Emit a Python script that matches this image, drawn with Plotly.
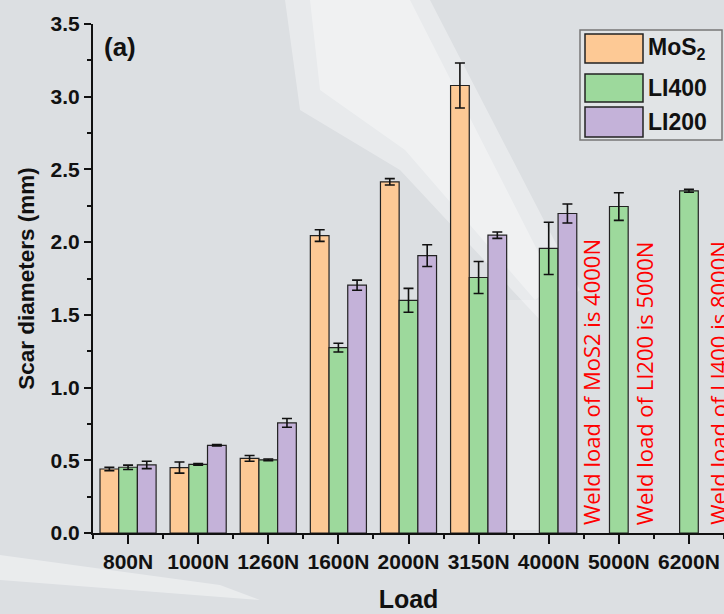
import plotly.graph_objects as go

loads = ["800N", "1000N", "1260N", "1600N", "2000N", "3150N", "4000N", "5000N", "6200N"]
mos2 = [0.44, 0.45, 0.513, 2.045, 2.415, 3.077, None, None, None]
mos2_err = [0.012, 0.038, 0.02, 0.04, 0.022, 0.155, None, None, None]
li400 = [0.452, 0.472, 0.503, 1.275, 1.60, 1.757, 1.957, 2.245, 2.353]
li400_err = [0.015, 0.006, 0.006, 0.03, 0.082, 0.11, 0.18, 0.095, 0.01]
li200 = [0.468, 0.603, 0.757, 1.704, 1.907, 2.048, 2.197, None, None]
li200_err = [0.025, 0.005, 0.03, 0.035, 0.075, 0.022, 0.065, None, None]

series_names = ["MoS<sub>2</sub>", "LI400", "LI200"]
series_colors = ["#fdc995", "#9dd99c", "#c4b2d9"]

weld_notes = ["Weld load of MoS2 is 4000N", "Weld load of LI200 is 5000N", "Weld load of LI400 is 8000N"]
weld_x = [6.6, 7.36, 8.41]

W, H = 724, 614
L, R, T, B = 93, 0, 24, 81
PW, PH = W - L - R, H - T - B


def px(x):
    return (x - L) / PW


def py(y):
    return (H - B - y) / PH


fig = go.Figure()
for name, vals, errs, col in zip(series_names, [mos2, li400, li200],
                                 [mos2_err, li400_err, li200_err], series_colors):
    fig.add_trace(go.Bar(
        x=loads, y=vals, name=name,
        marker=dict(color=col, line=dict(color="#222", width=1.2)),
        error_y=dict(type="data", array=errs, color="#111", thickness=1.6, width=5),
        showlegend=False,
    ))

# helper trace for boundary ticks
fig.add_trace(go.Scatter(x=loads, y=[0] * len(loads), xaxis="x2", mode="markers",
                         marker=dict(opacity=0), showlegend=False, hoverinfo="skip"))

fam = "Liberation Sans, Arial"

fig.update_layout(
    width=W, height=H, autosize=False,
    margin=dict(l=L, r=R, t=T, b=B, pad=0),
    paper_bgcolor="#dcdfe2",
    plot_bgcolor="rgba(0,0,0,0)",
    barmode="group", bargap=0.2, bargroupgap=0,
    font=dict(family=fam, color="#111"),
    xaxis=dict(
        type="category", categoryorder="array", categoryarray=loads,
        range=[-0.5, 8.5], showgrid=False, zeroline=False,
        showline=True, linecolor="#111", linewidth=2,
        ticks="outside", ticklen=9, tickwidth=2, tickcolor="#111",
        tickfont=dict(family=fam, size=21, color="#111"),
        tickprefix="<b>", ticksuffix="</b>",
        title=dict(text="<b>Load</b>", font=dict(size=25, color="#111"), standoff=18),
    ),
    xaxis2=dict(
        type="category", categoryorder="array", categoryarray=loads,
        overlaying="x", anchor="y", side="bottom", range=[-0.5, 8.5],
        tickson="boundaries", ticks="outside", ticklen=5, tickwidth=2, tickcolor="#111",
        showticklabels=False, showgrid=False, zeroline=False, showline=False,
    ),
    yaxis=dict(
        range=[0, 3.5], dtick=0.5, tickformat=".1f", showgrid=False, zeroline=False,
        showline=True, linecolor="#111", linewidth=2,
        ticks="outside", ticklen=7, tickwidth=2, tickcolor="#111",
        tickfont=dict(family=fam, size=21, color="#111"), tickprefix="<b>", ticksuffix="</b>",
        minor=dict(dtick=0.25, ticks="outside", ticklen=4, tickwidth=2, tickcolor="#111"),
        title=dict(text="<b>Scar diameters (mm)</b>", font=dict(size=22.5, color="#111"), standoff=10),
    ),
)

shapes = []
# background light streaks
shapes.append(dict(type="path", xref="paper", yref="paper", layer="below",
                   path=f"M {px(285)} {py(0)} L {px(430)} {py(0)} L {px(580)} {py(290)} "
                        f"L {px(540)} {py(320)} L {px(400)} {py(170)} L {px(300)} {py(110)} Z",
                   fillcolor="rgba(255,255,255,0.35)", line=dict(width=0)))
shapes.append(dict(type="path", xref="paper", yref="paper", layer="below",
                   path=f"M {px(310)} {py(0)} L {px(410)} {py(0)} L {px(555)} {py(285)} "
                        f"L {px(535)} {py(300)} L {px(405)} {py(150)} L {px(320)} {py(90)} Z",
                   fillcolor="rgba(255,255,255,0.35)", line=dict(width=0)))
shapes.append(dict(type="path", xref="paper", yref="paper", layer="below",
                   path=f"M {px(0)} {py(555)} L {px(220)} {py(585)} L {px(260)} {py(600)} "
                        f"L {px(0)} {py(580)} Z",
                   fillcolor="rgba(255,255,255,0.4)", line=dict(width=0)))
shapes.append(dict(type="path", xref="paper", yref="paper", layer="below",
                   path=f"M {px(470)} {py(300)} L {px(540)} {py(300)} L {px(560)} {py(530)} "
                        f"L {px(480)} {py(530)} Z",
                   fillcolor="rgba(255,255,255,0.25)", line=dict(width=0)))

# legend box
shapes.append(dict(type="rect", xref="paper", yref="paper",
                   x0=px(580), x1=px(722), y0=py(140), y1=py(30),
                   fillcolor="rgba(228,232,234,0.6)", line=dict(color="#777", width=1.5)))
rows = [(34, 63), (74, 102), (107, 137)]
annotations = []
for (y0, y1), col, name in zip(rows, series_colors, series_names):
    shapes.append(dict(type="rect", xref="paper", yref="paper",
                       x0=px(585), x1=px(643), y0=py(y1), y1=py(y0),
                       fillcolor=col, line=dict(color="#222", width=1.5)))
    annotations.append(dict(xref="paper", yref="paper", x=px(646), y=py((y0 + y1) / 2),
                            xanchor="left", yanchor="middle", showarrow=False,
                            text=f"<b>{name}</b>", font=dict(size=23, color="#111")))

for txt, xv in zip(weld_notes, weld_x):
    annotations.append(dict(x=xv, y=0.04, xref="x", yref="y", text=txt, textangle=-90,
                            xanchor="center", yanchor="bottom", showarrow=False,
                            font=dict(family="Open Sans", size=22, color="#ff0000")))

annotations.append(dict(xref="paper", yref="paper", x=px(102), y=py(47), xanchor="left",
                        yanchor="middle", showarrow=False, text="<b>(a)</b>",
                        font=dict(size=26, color="#111")))

fig.update_layout(shapes=shapes, annotations=annotations)

fig.write_html("out.html", config={"displayModeBar": False},
               post_script="document.body.style.margin='0';document.body.style.padding='0';"
                           "document.documentElement.style.overflow='hidden';")
